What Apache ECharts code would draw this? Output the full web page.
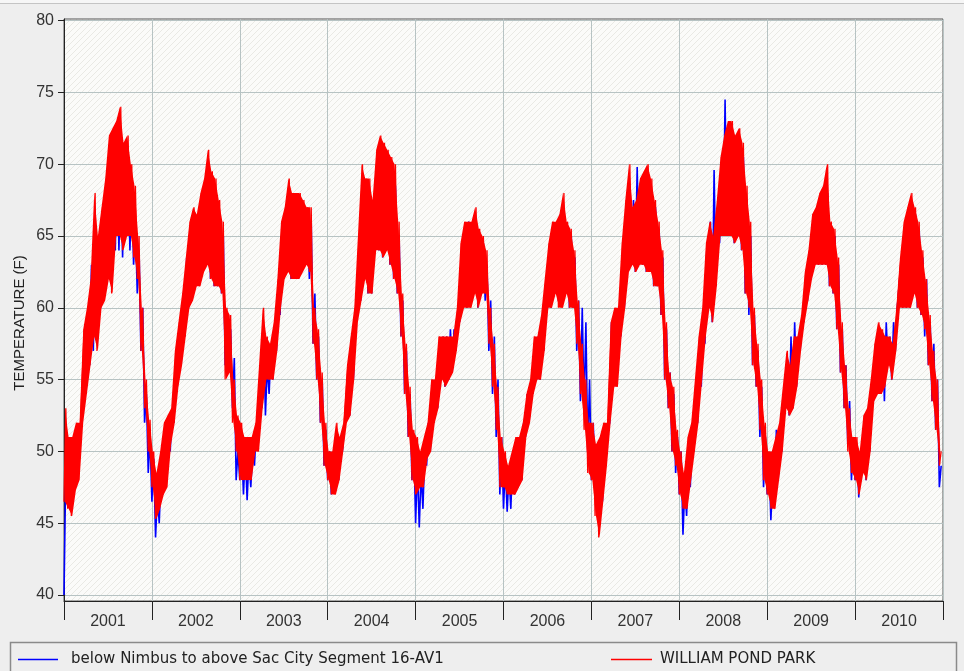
<!DOCTYPE html>
<html>
<head>
<meta charset="utf-8">
<script src="https://cdn.jsdelivr.net/npm/echarts@6/dist/echarts.min.js"></script>
<style>
html,body{margin:0;padding:0;background:#eeeeee;}
#c{width:964px;height:671px;}
</style>
</head>
<body>
<div id="c"></div>
<script>
// Year categories (x axis labels)
const years = [2001, 2002, 2003, 2004, 2005, 2006, 2007, 2008, 2009, 2010];
const perYear = 24; // half-month readings
const yTicks = [40, 45, 50, 55, 60, 65, 70, 75, 80];
const seriesNames = ['below Nimbus to above Sac City Segment 16-AV1', 'WILLIAM POND PARK'];

// WILLIAM POND PARK: upper / lower envelope per half-month
const redHi = [
  53, 51, 51, 52, 52, 58.5, 60, 62, 68, 65, 67, 69, 72, 72.5, 73, 74, 71.5, 72, 70, 68.5, 65, 60, 55, 52.2,
  50, 48.5, 50, 52, 52.5, 53, 57, 59, 61, 63.5, 66, 67, 66.5, 68, 69, 71, 69.5, 69, 67.5, 66, 60, 59.5, 55, 52.5,
  52, 51, 51, 51, 52, 56, 60, 58, 57.5, 59, 62, 66, 67, 69, 68, 68, 68, 67.5, 67, 67, 60, 58.5, 55.5, 52,
  50, 50, 52, 51, 52, 56, 58, 60, 65, 70, 69, 69, 67.5, 71, 72, 71.5, 71, 70.5, 70, 66, 61, 57.5, 54.5, 51.5,
  51, 50, 51, 52, 55, 55, 58, 58, 58, 58, 58, 60, 64.5, 66, 66, 66, 67, 65.5, 65, 64, 60, 57.5, 54.5, 51,
  50, 49, 50, 51, 51, 52, 54, 55, 58, 58, 59.5, 62, 64.5, 66, 66, 66.5, 68, 66, 65.5, 64, 60.5, 57.5, 55, 52,
  52, 50.5, 51, 52, 52, 59, 60, 60, 64.5, 67.5, 70, 67, 67.5, 69, 69.5, 70, 69, 67.5, 66, 64, 59, 55.5, 54.5, 51.5,
  50, 48.5, 51, 52, 55, 58, 60, 64.5, 66, 65, 67.5, 70.5, 72, 73, 73, 72, 72.5, 71.5, 68.5, 66, 60, 57.5, 55, 52,
  50, 50, 51, 52, 54.5, 57, 56, 58, 58, 59.5, 62.5, 64, 66.5, 67, 68, 68.5, 70, 66, 65.5, 63.5, 59, 56, 53, 51,
  51, 50, 52.5, 53, 55, 57.5, 59, 58.5, 58, 58, 57.5, 60, 63.5, 66, 67, 68, 67, 66, 64, 62, 59.5, 57, 55, 50
];
const redLo = [
  46.5, 46, 45.5, 47.3, 48, 52, 54, 56, 58, 57, 60, 60.5, 62, 61, 65, 65, 64, 65, 65, 63.5, 62, 57, 53, 50,
  47.5, 45.3, 46, 47, 47.5, 50.5, 52, 54.5, 56, 58, 60, 60.5, 61.5, 61.5, 62.5, 63, 62, 61.5, 61.5, 61, 55, 55.5, 52, 50,
  48, 48, 48, 48, 50, 50, 53, 55, 55, 55, 57, 60, 62, 62.5, 62, 62, 62, 62.5, 63, 62.5, 57.5, 55, 52, 49,
  48, 47, 47, 48, 50, 52, 52.5, 55, 59, 60.5, 62, 61, 61, 64, 64, 63.5, 64, 63, 62, 61, 58, 54, 51, 48,
  47, 47.5, 47.5, 49.5, 50, 52, 53, 55, 54.5, 55, 55.5, 57, 59, 60, 60, 60, 61, 60, 61, 61, 57.5, 54.5, 51.5, 47.5,
  47.5, 47, 47, 47, 47.5, 48, 51, 52, 54, 55, 55, 57, 60, 60, 61, 60, 60, 61, 60, 60, 57.5, 54, 51.5, 48.5,
  48, 45.5, 44, 46.5, 49, 52, 54.5, 54.5, 58, 60, 62.5, 63, 62.5, 63, 63, 62.5, 62.5, 61.5, 61.5, 59.5, 55, 53, 50, 49,
  47, 46, 46, 48, 50, 52, 55, 58, 60, 59, 61.5, 65, 65, 65, 65, 64.5, 65, 64, 61, 60, 56, 54.5, 51.5, 48,
  47, 46, 46, 48, 50, 53, 52.5, 53, 54.5, 57, 59, 60.5, 62, 63, 63, 63, 63, 61.5, 61, 58.5, 55.5, 53, 50, 48.5,
  48, 47, 48.5, 48, 50, 53.5, 54, 54, 54.5, 56, 55, 57, 60, 60, 60, 60, 61, 60, 59.5, 58.5, 56, 53.5, 51.5, 49
];

// below Nimbus to above Sac City Segment 16-AV1: upper / lower envelope per half-month
const blueHi = [
  49, 49, 50, 51, 51.5, 56, 59, 63, 63.5, 64.5, 66, 67.5, 69, 70, 70.5, 70, 69.5, 70, 68.5, 66, 64, 60, 54, 51,
  49.5, 47, 48.5, 51, 52, 53, 56, 58.5, 61, 63.5, 65.5, 65.5, 66, 67, 68, 68.5, 68, 67.5, 66, 65, 59, 58.5, 56.5, 50,
  50.5, 50, 49.5, 50, 51.5, 55, 58.5, 56, 57, 58, 61.5, 64.5, 66, 67, 67, 67, 67, 66.5, 66, 66, 61, 58, 55, 51.5,
  50, 49.5, 51, 50.5, 51.5, 55, 57, 59, 63.5, 66.5, 67.5, 68, 66.5, 69.5, 70, 70, 70, 69.5, 68.5, 65, 60.5, 57, 54, 51,
  49, 48.5, 50, 52, 53.5, 55, 57, 58, 58, 58.5, 58.5, 59.5, 63.5, 65.5, 66, 65.5, 66, 65, 64.5, 63, 60.5, 58, 55, 51,
  49, 48.5, 49.5, 50.5, 51, 52, 54, 55, 57.5, 58, 59, 61.5, 64, 65.5, 65.5, 66.5, 65.5, 65.5, 65, 63.5, 60.5, 60, 59, 55,
  52, 50, 49.5, 49, 51.5, 59, 59.5, 59, 63.5, 67, 68.5, 67.5, 69.8, 68, 68.5, 69, 68, 67, 65.5, 63.5, 58.5, 55.5, 54, 51,
  50, 47.5, 50, 51, 54, 57, 59.5, 64, 66, 69.6, 67, 70, 74.5, 72, 72, 71.5, 71.5, 70.5, 67.5, 65, 59.5, 57, 54.5, 51,
  49.5, 48, 51.5, 51, 54, 56, 58, 59, 58, 59.5, 62, 63.5, 66, 66.5, 67.5, 68, 68, 65.5, 65, 63, 58.5, 56, 53.5, 50.5,
  50.5, 49.5, 52, 52, 54, 57, 58.5, 58, 59, 58, 59, 60, 63, 65.5, 66.5, 66.5, 66.5, 65.5, 63.5, 62, 59, 57.5, 55, 49
];
const blueLo = [
  40, 46.5, 46.5, 47.5, 48.5, 51.5, 54, 56, 57, 58, 60, 61, 62, 63.5, 64, 64, 63.5, 65, 64, 63, 61, 57, 52, 48.5,
  46.5, 44, 45, 47, 48, 50, 52, 55, 56, 58, 60, 61, 61.5, 62, 62.5, 63, 62, 61.5, 61.5, 61, 56, 56, 53, 48,
  48, 47, 46.6, 47.5, 49, 50.5, 53, 52.5, 54, 55, 57, 59.5, 62, 62.5, 62, 62, 62, 62.5, 63, 62, 57.5, 55, 52, 49,
  48, 47, 47.5, 48, 50, 51.5, 52.5, 55, 59, 60.5, 62, 61, 61, 64, 64, 63.5, 64, 63, 62, 61, 58, 54, 51, 48,
  45, 44.7, 46, 49, 50, 52, 53, 55, 54.5, 55, 55.5, 57, 59, 60, 60, 60.5, 61, 60, 61, 60.5, 57, 54, 51, 47,
  46, 45.8, 46, 47, 47.5, 48, 51, 52, 54, 55, 55, 57, 60, 60, 61, 60.5, 60.5, 61, 60, 60, 57, 53.5, 53, 50,
  48, 48, 47.5, 46.5, 49, 52, 54.5, 55, 58, 60, 62.5, 63, 62.5, 63, 63, 62.5, 62.5, 61.5, 61.5, 59.5, 55, 53, 50, 48.5,
  47, 44.2, 45.5, 47.5, 50, 52, 54.5, 57.5, 60, 59, 61.5, 64.5, 65, 65, 65, 64.5, 65, 64, 61, 59.5, 56, 54.5, 51, 47.5,
  47, 45.2, 46.5, 48, 50, 53, 52.5, 53, 54.5, 57, 59, 60.5, 62, 63, 63, 63, 63, 61.5, 61, 58.5, 55.5, 53, 50.5, 48,
  48, 46.8, 48.5, 48, 50, 53.5, 54, 54, 53.5, 56, 55, 57, 60, 60, 60, 60, 61, 60, 59.5, 58, 56, 53.5, 51.5, 47.5
];

// Alternating low/high readings (fractional-year x values)
function zigzag(lo, hi) {
  const out = [];
  for (let i = 0; i < lo.length; i++) {
    const t = years[0] + i / perYear;
    out.push([t, lo[i]]);
    out.push([t + 0.5 / perYear, hi[i]]);
  }
  return out;
}
// Band (envelope) readings at the middle of each half-month; value first, time second
function bandBase(lo) {
  return lo.map((v, i) => [v, years[0] + (i + 0.25) / perYear]);
}
function bandSpan(lo, hi) {
  return lo.map((v, i) => [hi[i] - v, years[0] + (i + 0.25) / perYear]);
}

// Hatched plot background
const pat = document.createElement('canvas');
pat.width = 6; pat.height = 6;
(function () {
  const g = pat.getContext('2d');
  g.fillStyle = '#fbfbf9';
  g.fillRect(0, 0, 6, 6);
  g.strokeStyle = 'rgba(205,205,195,0.55)';
  g.lineWidth = 0.7;
  g.beginPath();
  g.moveTo(0, 6); g.lineTo(6, 0);
  g.moveTo(-3, 3); g.lineTo(3, -3);
  g.moveTo(3, 9); g.lineTo(9, 3);
  g.stroke();
})();

const FONT = '"Liberation Sans", Arial, sans-serif';
const LFONT = '"DejaVu Sans", Verdana, sans-serif';
const BLUE = '#0000ff', RED = '#ff0000';
const chart = echarts.init(document.getElementById('c'), null, { renderer: 'canvas' });
const gridColor = '#b7c3c3';

chart.setOption({
  animation: false,
  backgroundColor: '#eeeeee',
  grid: [
    { left: 64, right: 21, top: 20.6, bottom: 76, show: false, containLabel: false },
    { left: 64, right: 21, top: 19, bottom: 70, show: true, backgroundColor: { image: pat, repeat: 'repeat' },
      borderColor: '#555', borderWidth: 1, z: 0 }
  ],
  xAxis: [
    { type: 'value', gridIndex: 0, min: years[0], max: years[years.length - 1] + 1, show: false },
    { type: 'category', gridIndex: 1, data: years.map(String), boundaryGap: true, position: 'bottom',
      axisLine: { show: true, lineStyle: { color: '#222', width: 1 } },
      axisTick: { show: true, length: 19, lineStyle: { color: '#222', width: 1 } },
      axisLabel: { color: '#333', fontFamily: FONT, fontSize: 16, margin: 13 },
      splitLine: { show: true, lineStyle: { color: gridColor, width: 1 } } }
  ],
  yAxis: [
    { type: 'value', gridIndex: 0, min: yTicks[0], max: yTicks[yTicks.length - 1], interval: 5,
      axisLine: { show: false },
      axisTick: { show: true, length: 6, lineStyle: { color: '#222' } },
      axisLabel: { color: '#333', fontFamily: FONT, fontSize: 16, margin: 10 },
      splitLine: { show: true, lineStyle: { color: gridColor, width: 1 } } },
    { type: 'value', gridIndex: 1, min: 0, max: 1,
      axisLine: { show: true, lineStyle: { color: '#222', width: 1 } },
      axisTick: { show: false }, axisLabel: { show: false }, splitLine: { show: false } }
  ],
  legend: [
    { data: [{ name: seriesNames[0], itemStyle: { color: BLUE } }], left: 13, top: 647, icon: 'rect',
      itemWidth: 40, itemHeight: 1.5,
      textStyle: { color: '#222', fontFamily: LFONT, fontSize: 15, padding: [0, 0, 0, 8] }, selectedMode: false },
    { data: [{ name: seriesNames[1], itemStyle: { color: RED } }], left: 606, top: 647, icon: 'rect',
      itemWidth: 41, itemHeight: 1.5,
      textStyle: { color: '#222', fontFamily: LFONT, fontSize: 15, padding: [0, 0, 0, 3] }, selectedMode: false }
  ],
  graphic: [
    { type: 'rect', shape: { x: 0, y: 0, width: 964, height: 3 }, style: { fill: '#f6f6f6' }, silent: true },
    { type: 'line', shape: { x1: 0, y1: 3.5, x2: 964, y2: 3.5 }, style: { stroke: '#c4c4c4', lineWidth: 1 }, silent: true },
    { type: 'rect', shape: { x: 10.5, y: 642.5, width: 946, height: 40 }, style: { fill: 'none', stroke: '#8a8a8a', lineWidth: 1.5 }, silent: true, z: -1 },
    { type: 'text', x: 20, y: 323, rotation: Math.PI / 2,
      style: { text: 'TEMPERATURE (F)', fill: '#222', font: '15px ' + FONT, align: 'center', verticalAlign: 'middle' }, silent: true }
  ],
  series: [
    { name: seriesNames[0], type: 'line', xAxisIndex: 0, yAxisIndex: 0, data: zigzag(blueLo, blueHi),
      showSymbol: false, symbol: 'none', itemStyle: { color: BLUE }, lineStyle: { color: BLUE, width: 1.6 }, z: 3 },
    { name: 'redBandBase', type: 'line', xAxisIndex: 0, yAxisIndex: 0, data: bandBase(redLo), stack: 'redBand',
      encode: { x: 1, y: 0 },
      showSymbol: false, symbol: 'none', lineStyle: { width: 0, opacity: 0 }, itemStyle: { color: RED }, z: 4, silent: true },
    { name: 'redBandSpan', type: 'line', xAxisIndex: 0, yAxisIndex: 0, data: bandSpan(redLo, redHi), stack: 'redBand',
      encode: { x: 1, y: 0 },
      showSymbol: false, symbol: 'none', lineStyle: { width: 0, opacity: 0 }, itemStyle: { color: RED },
      areaStyle: { color: RED, opacity: 1 }, z: 4, silent: true },
    { name: seriesNames[1], type: 'line', xAxisIndex: 0, yAxisIndex: 0, data: zigzag(redLo, redHi),
      showSymbol: false, symbol: 'none', itemStyle: { color: RED }, lineStyle: { color: RED, width: 1.3 }, z: 5 }
  ]
});
</script>
</body>
</html>
